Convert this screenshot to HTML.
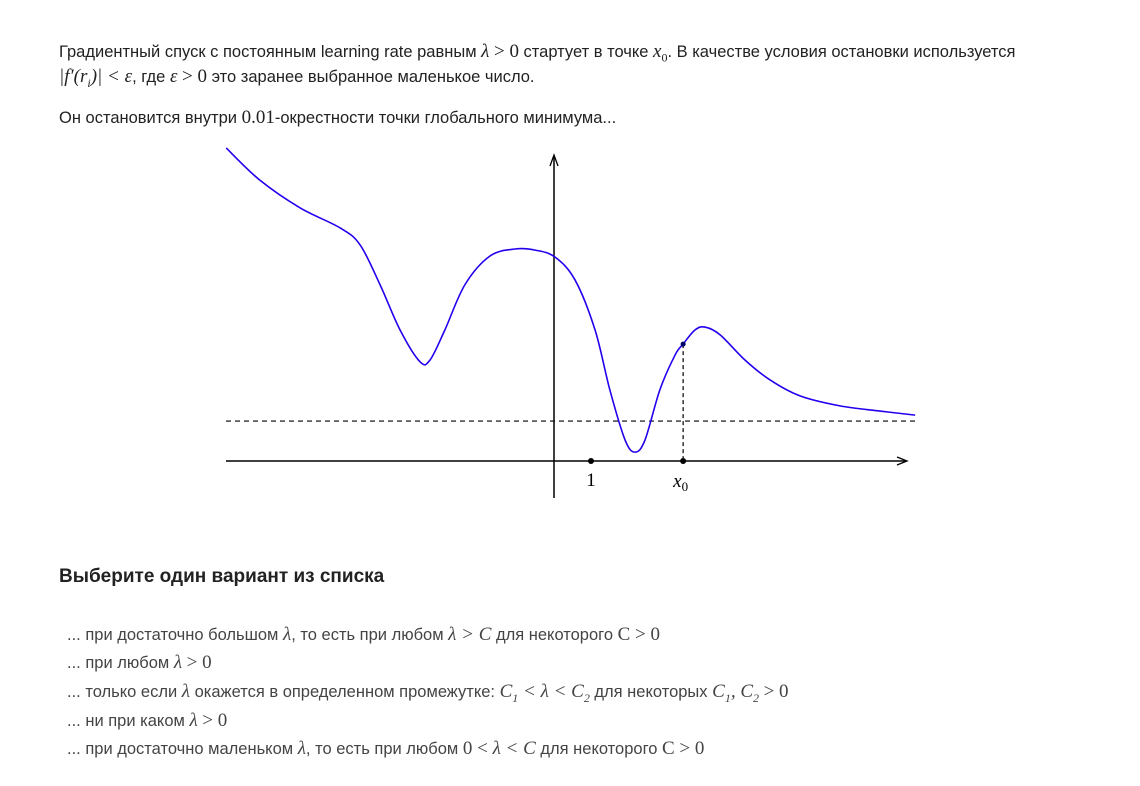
<!DOCTYPE html>
<html><head><meta charset="utf-8">
<style>
body{margin:0;background:#fff;width:1140px;height:786px;overflow:hidden;font-family:"Liberation Sans",sans-serif;color:#222;}
.t{position:absolute;left:59px;font-size:16.5px;white-space:nowrap;}
.m{font-family:"Liberation Serif",serif;font-style:italic;font-size:19px;}
.n{font-family:"Liberation Serif",serif;font-size:19px;}
.opt{position:absolute;left:67px;font-size:16.5px;color:#444;white-space:nowrap;}
h3{position:absolute;left:59px;top:566px;margin:0;font-size:19px;font-weight:bold;color:#222;}
</style></head><body>
<div class="t" style="top:41px">Градиентный спуск с постоянным learning rate равным <span class="m">λ</span> <span class="n">&gt; 0</span> стартует в точке <span class="m">x</span><sub class="n" style="font-size:12px">0</sub>. В качестве условия остановки используется</div>
<div class="t" style="top:66px"><span class="m">|f′(r<sub style="font-size:12px">i</sub>)| &lt; ε</span>, где <span class="m">ε</span> <span class="n">&gt; 0</span> это заранее выбранное маленькое число.</div>
<div class="t" style="top:107px">Он остановится внутри <span class="n">0.01</span>-окрестности точки глобального минимума...</div>
<svg id="chart" width="1140" height="786" style="position:absolute;left:0;top:0"></svg>
<h3>Выберите один вариант из списка</h3>
<div class="opt" style="top:624px">... при достаточно большом <span class="m">λ</span>, то есть при любом <span class="m">λ &gt; C</span> для некоторого <span class="n">C &gt; 0</span></div>
<div class="opt" style="top:652px">... при любом <span class="m">λ</span> <span class="n">&gt; 0</span></div>
<div class="opt" style="top:681px">... только если <span class="m">λ</span> окажется в определенном промежутке: <span class="m">C<sub style="font-size:12px">1</sub> &lt; λ &lt; C<sub style="font-size:12px">2</sub></span> для некоторых <span class="m">C<sub style="font-size:12px">1</sub>, C<sub style="font-size:12px">2</sub></span> <span class="n">&gt; 0</span></div>
<div class="opt" style="top:710px">... ни при каком <span class="m">λ</span> <span class="n">&gt; 0</span></div>
<div class="opt" style="top:738px">... при достаточно маленьком <span class="m">λ</span>, то есть при любом <span class="n">0 &lt; </span><span class="m">λ &lt; C</span> для некоторого <span class="n">C &gt; 0</span></div>
<script>
const curveX=[-8.86,-7.95,-6.86,-5.78,-5.24,-4.70,-4.16,-3.62,-3.35,-2.95,-2.41,-1.73,-1.05,-0.51,0.03,0.57,1.11,1.51,1.92,2.19,2.46,2.86,3.27,3.49,3.81,4.08,4.49,5.16,5.84,6.65,7.73,8.81,9.76];
const curveY=[8.46,7.59,6.84,6.30,5.84,4.76,3.54,2.68,2.73,3.54,4.76,5.54,5.73,5.70,5.51,4.89,3.54,1.92,0.57,0.24,0.57,1.92,2.86,3.16,3.54,3.62,3.41,2.73,2.19,1.76,1.49,1.35,1.24];
const epsLevel=[1.08];
const x0Value=[3.49];
const tickOne=[1];
const ox=554,oy=461,s=37;
const X=v=>ox+v*s, Y=v=>oy-v*s;
const svg=document.getElementById('chart');
const NS='http://www.w3.org/2000/svg';
function mk(t,a){const e=document.createElementNS(NS,t);for(const k in a)e.setAttribute(k,a[k]);svg.appendChild(e);return e;}
let e=mk('line',{x1:226,y1:oy,x2:905,y2:oy,stroke:'#000','stroke-width':1.5});


e=mk('path',{d:`M897,${oy-4} L907,${oy} L897,${oy+4}`,fill:'none',stroke:'#000','stroke-width':1.3});


e=mk('line',{x1:ox,y1:498,x2:ox,y2:157,stroke:'#000','stroke-width':1.5});


e=mk('path',{d:`M${ox-4},166 L${ox},155 L${ox+4},166`,fill:'none',stroke:'#000','stroke-width':1.3});


e=mk('line',{x1:226,y1:Y(epsLevel[0]),x2:915,y2:Y(epsLevel[0]),stroke:'#000','stroke-width':1.2,'stroke-dasharray':'5,4'});


const P=curveX.map((x,i)=>[X(x),Y(curveY[i])]);
let d=`M${P[0][0]},${P[0][1]}`;
for(let i=0;i<P.length-1;i++){const p0=P[Math.max(i-1,0)],p1=P[i],p2=P[i+1],p3=P[Math.min(i+2,P.length-1)];
d+=` C${p1[0]+(p2[0]-p0[0])/6},${p1[1]+(p2[1]-p0[1])/6} ${p2[0]-(p3[0]-p1[0])/6},${p2[1]-(p3[1]-p1[1])/6} ${p2[0]},${p2[1]}`;}
e=mk('path',{d:d,fill:'none',stroke:'#2200ee','stroke-width':1.6});


const xi=curveX.indexOf(x0Value[0]);const x0y=xi>=0?curveY[xi]:3.16;
e=mk('line',{x1:X(x0Value[0]),y1:Y(x0y),x2:X(x0Value[0]),y2:oy,stroke:'#000','stroke-width':1.2,'stroke-dasharray':'4,3'});


e=mk('circle',{cx:X(x0Value[0]),cy:Y(x0y),r:2.5,fill:'#000066'});


e=mk('circle',{cx:X(x0Value[0]),cy:oy,r:3,fill:'#000'});


e=mk('circle',{cx:X(tickOne[0]),cy:oy,r:3,fill:'#000'});


e=mk('text',{x:X(tickOne[0]),y:486,'text-anchor':'middle','font-family':'Liberation Serif, serif','font-size':19});
e.textContent=String(tickOne[0]);


e=mk('text',{x:X(x0Value[0])-10,y:487,'font-family':'Liberation Serif, serif','font-style':'italic','font-size':19});
e.innerHTML='x<tspan font-style="normal" font-size="13" dy="4">0</tspan>';


</script>
</body></html>
